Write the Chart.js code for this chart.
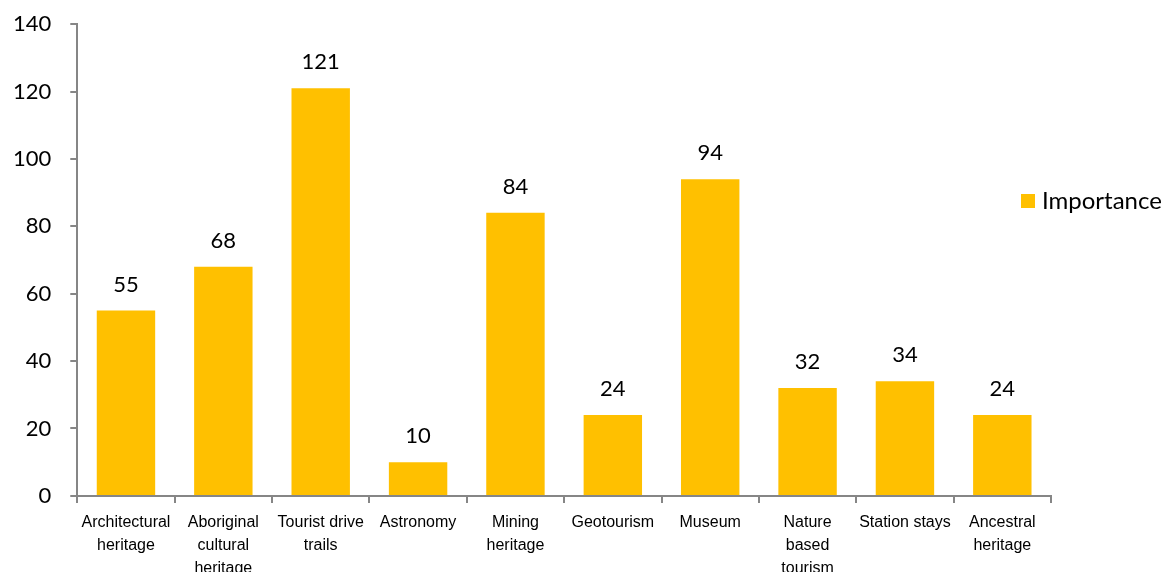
<!DOCTYPE html>
<html><head><meta charset="utf-8">
<script src="https://cdn.jsdelivr.net/npm/chart.js@4"></script>
<style>html,body{margin:0;padding:0;background:#fff;overflow:hidden;width:1169px;height:572px}#wrap{width:1169px;height:584px;position:absolute;left:0;top:-8px}</style>
</head><body><div id="wrap"><canvas id="c"></canvas></div>
<script>
const categories = [["Architectural","heritage"],["Aboriginal","cultural","heritage"],["Tourist drive","trails"],["Astronomy"],["Mining","heritage"],["Geotourism"],["Museum"],["Nature","based","tourism"],["Station stays"],["Ancestral","heritage"]];
const importance = [55,68,121,10,84,24,94,32,34,24];
const seriesName = "Importance";
const yTicks = {min:0,max:140,step:20};

const GOLD = "#FFC000", AXIS = "#868686";
const valueLabels = {
  id:"valueLabels",
  afterDatasetsDraw(chart){
    const ctx = chart.ctx, meta = chart.getDatasetMeta(0);
    ctx.save();
    ctx.font = "22px Lato";
    ctx.fillStyle = "#000";
    ctx.textAlign = "center";
    ctx.textBaseline = "alphabetic";
    meta.data.forEach((bar,i)=>{
      ctx.fillText(String(chart.data.datasets[0].data[i]), bar.x, bar.y - 19);
    });
    // legend
    ctx.fillStyle = GOLD;
    ctx.fillRect(1021,202,14,14);
    ctx.fillStyle = "#000";
    ctx.font = "24px Lato";
    ctx.textAlign = "left";
    ctx.textBaseline = "middle";
    ctx.fillText(chart.data.datasets[0].label, 1042, 209);
    ctx.restore();
  }
};

new Chart(document.getElementById("c"),{
  type:"bar",
  data:{labels:categories,datasets:[{label:seriesName,data:importance,backgroundColor:GOLD,barPercentage:0.6,categoryPercentage:1}]},
  options:{
    responsive:true,maintainAspectRatio:false,animation:false,
    layout:{padding:{left:-6,right:118,top:-1,bottom:-12}},
    plugins:{legend:{display:false},tooltip:{enabled:false}},
    scales:{
      x:{
        offset:true,
        border:{color:AXIS,width:2},
        grid:{offset:true,drawOnChartArea:false,drawTicks:true,tickLength:7,color:AXIS,lineWidth:2},
        ticks:{color:"#000",font:{family:"'Liberation Sans',Arial,sans-serif",size:16,lineHeight:1.44},padding:8,maxRotation:0,autoSkip:false}
      },
      y:{
        min:yTicks.min,max:yTicks.max,
        border:{color:AXIS,width:2},
        grid:{drawOnChartArea:false,drawTicks:true,tickLength:7,color:AXIS,lineWidth:2},
        ticks:{stepSize:yTicks.step,color:"#000",font:{family:"Lato",size:22},padding:19}
      }
    }
  },
  plugins:[valueLabels]
});
</script></body></html>
